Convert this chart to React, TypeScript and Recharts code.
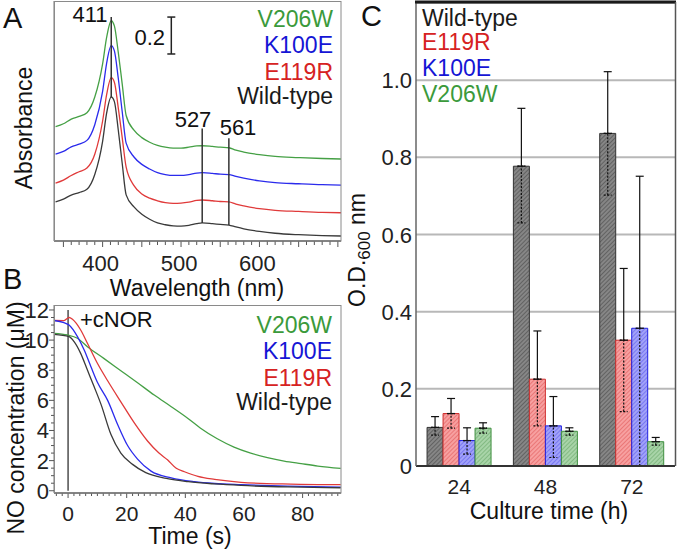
import React from 'react';
import {
  LineChart,
  Line,
  XAxis,
  YAxis,
  ReferenceLine,
  BarChart,
  Bar,
  ErrorBar,
  CartesianGrid
} from 'recharts';

const FONT = '"Liberation Sans", Arial, Helvetica, sans-serif';

const C_WT = '#3a3a3a';
const C_E119R = '#e03a3a';
const C_K100E = '#2b2bec';
const C_V206W = '#45a045';

const T_WT = '#1a1a1a';
const T_E119R = '#d62222';
const T_K100E = '#1515d5';
const T_V206W = '#3b9a3b';

// ---- Panel A: absorption spectra (stacked with offsets, as drawn) ----
const wavelengths = [340, 350, 360, 370, 380, 390, 400, 405, 411, 415, 420, 425, 430, 440, 450, 460, 470, 480, 490, 500, 510, 520, 527, 540, 550, 561, 570, 580, 600, 620, 650, 680, 704];
const absWildType = [0.212, 0.227, 0.249, 0.262, 0.28, 0.36, 0.54, 0.69, 0.78, 0.755, 0.6, 0.42, 0.25, 0.185, 0.145, 0.118, 0.098, 0.088, 0.082, 0.081, 0.085, 0.094, 0.098, 0.094, 0.09, 0.086, 0.076, 0.066, 0.052, 0.042, 0.034, 0.029, 0.027];
const absE119R = [0.314, 0.33, 0.355, 0.375, 0.395, 0.47, 0.65, 0.79, 0.885, 0.86, 0.72, 0.56, 0.4, 0.3, 0.255, 0.232, 0.218, 0.208, 0.204, 0.205, 0.21, 0.22, 0.222, 0.218, 0.214, 0.212, 0.2, 0.19, 0.175, 0.166, 0.16, 0.155, 0.153];
const absK100E = [0.47, 0.485, 0.51, 0.525, 0.545, 0.63, 0.81, 0.96, 1.058, 1.03, 0.88, 0.7, 0.53, 0.455, 0.415, 0.39, 0.37, 0.36, 0.355, 0.355, 0.36, 0.368, 0.37, 0.366, 0.362, 0.36, 0.35, 0.34, 0.326, 0.316, 0.31, 0.305, 0.303];
const absV206W = [0.619, 0.635, 0.66, 0.675, 0.695, 0.78, 0.96, 1.1, 1.193, 1.165, 1.02, 0.85, 0.68, 0.6, 0.56, 0.535, 0.518, 0.508, 0.503, 0.503, 0.508, 0.515, 0.516, 0.512, 0.508, 0.505, 0.492, 0.482, 0.468, 0.458, 0.452, 0.447, 0.444];
const specTickLabels = [400, 500, 600];
const specMinorTicks = Array.from({ length: 36 }, (_, i) => 350 + i * 10);

const specRows = wavelengths.map((w, i) => ({
  w,
  wt: absWildType[i],
  e119r: absE119R[i],
  k100e: absK100E[i],
  v206w: absV206W[i]
}));

// ---- Panel B: NO consumption traces ----
const tWT = [-4.8, 0.34, 2.05, 4.3, 6.6, 8.9, 11.3, 14.6, 18, 22, 26.5, 33.5, 41, 50, 59, 75, 93];
const noWT = [10.38, 10.23, 9.9, 9.12, 8.01, 6.9, 5.7, 3.75, 2.5, 1.75, 1.2, 0.82, 0.6, 0.45, 0.35, 0.25, 0.2];
const tK100E = [-4.8, -1.4, 0.34, 3.2, 5.5, 7.8, 10, 13.5, 16.9, 20.3, 23.7, 28.3, 35.2, 43.1, 50, 59, 75, 93];
const noK100E = [11.3, 11.16, 11.0, 10.23, 9.34, 8.23, 7.2, 6.0, 4.4, 3.0, 2.1, 1.3, 0.85, 0.6, 0.48, 0.4, 0.3, 0.24];
const tE119R = [-4.8, -1.4, 0.34, 1.5, 4.3, 6.6, 10, 13.5, 18, 22.6, 27.1, 31, 34, 36.9, 39.7, 44.3, 50, 59, 76, 93];
const noE119R = [11.3, 11.29, 11.5, 11.38, 10.67, 9.79, 8.46, 7.3, 5.9, 4.5, 3.3, 2.5, 2.04, 1.49, 1.26, 0.95, 0.75, 0.56, 0.44, 0.4];
const tV206W = [-4.8, -0.2, 3.2, 6.6, 12.3, 18, 23.7, 29.4, 35.2, 40.9, 45.2, 50.9, 56.6, 62.3, 68, 73.7, 79.5, 85.2, 93];
const noV206W = [10.45, 10.34, 10.12, 9.56, 8.77, 7.97, 7.17, 6.35, 5.58, 4.8, 4.15, 3.45, 2.9, 2.5, 2.2, 1.97, 1.8, 1.64, 1.48];
const timeTickLabels = [0, 20, 40, 60, 80];
const concTickLabels = [0, 2, 4, 6, 8, 10, 12];
const timeMinorTicks = Array.from({ length: 49 }, (_, i) => -4 + i * 2);
const concMinorTicks = Array.from({ length: 25 }, (_, i) => i * 0.5);

const pts = (ts: number[], vs: number[]) => ts.map((t, i) => ({ t, v: vs[i] }));

// ---- Panel C: growth (O.D. 600 nm) ----
const cultureTimes = ['24', '48', '72'];
const odWT = [0.1, 0.777, 0.862];
const odWTLo = [0.08, 0.63, 0.702];
const odWTHi = [0.128, 0.927, 1.022];
const odE119R = [0.136, 0.225, 0.326];
const odE119RLo = [0.098, 0.104, 0.141];
const odE119RHi = [0.175, 0.35, 0.512];
const odK100E = [0.066, 0.104, 0.357];
const odK100ELo = [0.031, 0.022, 0.0];
const odK100EHi = [0.099, 0.18, 0.751];
const odV206W = [0.098, 0.09, 0.063];
const odV206WLo = [0.085, 0.08, 0.054];
const odV206WHi = [0.112, 0.099, 0.074];
const odTickLabels = [0, 0.2, 0.4, 0.6, 0.8, 1.0];

const growthRows = cultureTimes.map((c, i) => ({
  c,
  wt: odWT[i], wtUp: [0, odWTHi[i] - odWT[i]], wtDn: [odWT[i] - odWTLo[i], 0],
  e119r: odE119R[i], e119rUp: [0, odE119RHi[i] - odE119R[i]], e119rDn: [odE119R[i] - odE119RLo[i], 0],
  k100e: odK100E[i], k100eUp: [0, odK100EHi[i] - odK100E[i]], k100eDn: [odK100E[i] - odK100ELo[i], 0],
  v206w: odV206W[i], v206wUp: [0, odV206WHi[i] - odV206W[i]], v206wDn: [odV206W[i] - odV206WLo[i], 0]
}));

const SpecTick = (props: any) => {
  const { x, y, payload } = props;
  const v = payload.value;
  return (
    <g>
      <line x1={x} x2={x} y1={y} y2={y + (v % 50 === 0 ? 6 : 4)} stroke="#555" strokeWidth={1} />
      {specTickLabels.includes(v) && (
        <text x={x - 2} y={y + 30} textAnchor="middle" fontSize={22} fill="#222" fontFamily={FONT}>{v}</text>
      )}
    </g>
  );
};

const TimeTick = (props: any) => {
  const { x, y, payload } = props;
  const v = payload.value;
  const major = timeTickLabels.includes(v);
  return (
    <g>
      <line x1={x} x2={x} y1={y} y2={y + (major ? 5 : 3)} stroke="#555" strokeWidth={1} />
      {major && (
        <text x={x} y={y + 28} textAnchor="middle" fontSize={21} fill="#222" fontFamily={FONT}>{v}</text>
      )}
    </g>
  );
};

const ConcTick = (props: any) => {
  const { x, y, payload } = props;
  const v = payload.value;
  const major = concTickLabels.includes(v);
  return (
    <g>
      <line x1={x - (major ? 5 : 3)} x2={x} y1={y} y2={y} stroke="#555" strokeWidth={1} />
      {major && (
        <text x={x - 5} y={y + 8} textAnchor="end" fontSize={22} fill="#222" fontFamily={FONT}>{v}</text>
      )}
    </g>
  );
};

const OdTick = (props: any) => {
  const { x, y, payload } = props;
  const v = payload.value;
  return (
    <text x={x - 4} y={y + 8} textAnchor="end" fontSize={22} fill="#222" fontFamily={FONT}>
      {v === 0 ? '0' : v.toFixed(1)}
    </text>
  );
};

const CatTick = (props: any) => {
  const { x, y, payload } = props;
  return (
    <text x={x} y={y + 28} textAnchor="middle" fontSize={21} fill="#222" fontFamily={FONT}>{payload.value}</text>
  );
};

const hatch = (id: string, bg: string, fg: string) => (
  <pattern id={id} width="3" height="3" patternUnits="userSpaceOnUse" patternTransform="rotate(45)">
    <rect width="3" height="3" fill={bg} />
    <line x1="0" y1="0" x2="0" y2="3" stroke={fg} strokeWidth="1.2" />
  </pattern>
);

export default function App() {
  const txt = { fontFamily: FONT, fontSize: 23 } as const;
  return (
    <div style={{ position: 'fixed', left: 0, top: 0, width: 677, height: 553, background: '#fff', fontFamily: FONT }}>
      {/* A: spectra */}
      <div style={{ position: 'absolute', left: 0, top: 0 }}>
        <LineChart width={345} height={300} data={specRows} margin={{ top: 1, right: 4, bottom: 0, left: 0 }}>
          <XAxis
            dataKey="w"
            type="number"
            domain={[338, 704]}
            allowDataOverflow
            ticks={specMinorTicks}
            interval={0}
            height={59}
            tickSize={0}
            tickMargin={0}
            tickLine={false}
            axisLine={{ stroke: '#555', strokeWidth: 1.5 }}
            tick={<SpecTick />}
          />
          <YAxis type="number" domain={[0, 1.3]} allowDataOverflow width={54} tick={false} tickLine={false} axisLine={{ stroke: '#777' }} />
          <Line dataKey="wt" type="monotone" stroke={C_WT} strokeWidth={1.3} dot={false} isAnimationActive={false} />
          <Line dataKey="e119r" type="monotone" stroke={C_E119R} strokeWidth={1.3} dot={false} isAnimationActive={false} />
          <Line dataKey="k100e" type="monotone" stroke={C_K100E} strokeWidth={1.3} dot={false} isAnimationActive={false} />
          <Line dataKey="v206w" type="monotone" stroke={C_V206W} strokeWidth={1.3} dot={false} isAnimationActive={false} />
          <ReferenceLine segment={[{ x: 411, y: 1.213 }, { x: 411, y: 0.78 }]} stroke="#333" strokeWidth={1.5} />
          <ReferenceLine segment={[{ x: 527, y: 0.61 }, { x: 527, y: 0.098 }]} stroke="#333" strokeWidth={1.5} />
          <ReferenceLine segment={[{ x: 561, y: 0.556 }, { x: 561, y: 0.087 }]} stroke="#333" strokeWidth={1.5} />
          {/* 0.2 scale bar */}
          <ReferenceLine segment={[{ x: 487.6, y: 1.213 }, { x: 487.6, y: 1.013 }]} stroke="#222" strokeWidth={1.5} />
          <ReferenceLine segment={[{ x: 482.5, y: 1.213 }, { x: 492.7, y: 1.213 }]} stroke="#222" strokeWidth={1.5} />
          <ReferenceLine segment={[{ x: 482.5, y: 1.013 }, { x: 492.7, y: 1.013 }]} stroke="#222" strokeWidth={1.5} />
        </LineChart>
      </div>

      {/* B: NO consumption */}
      <div style={{ position: 'absolute', left: 0, top: 290 }}>
        <LineChart width={345} height={263} margin={{ top: 15, right: 4, bottom: 0, left: 0 }}>
          <XAxis
            dataKey="t"
            type="number"
            domain={[-4.8, 93.1]}
            allowDataOverflow
            ticks={timeMinorTicks}
            interval={0}
            height={60}
            tickSize={0}
            tickMargin={0}
            tickLine={false}
            axisLine={{ stroke: '#555', strokeWidth: 1.5 }}
            tick={<TimeTick />}
          />
          <YAxis
            type="number"
            domain={[-0.15, 12.33]}
            allowDataOverflow
            ticks={concMinorTicks}
            interval={0}
            width={54}
            tickSize={0}
            tickMargin={0}
            tickLine={false}
            axisLine={{ stroke: '#777' }}
            tick={<ConcTick />}
          />
          <ReferenceLine segment={[{ x: 0, y: 12 }, { x: 0, y: 0 }]} stroke="#333" strokeWidth={1.3} />
          <Line data={pts(tV206W, noV206W)} dataKey="v" type="monotone" stroke={C_V206W} strokeWidth={1.3} dot={false} isAnimationActive={false} />
          <Line data={pts(tE119R, noE119R)} dataKey="v" type="monotone" stroke={C_E119R} strokeWidth={1.3} dot={false} isAnimationActive={false} />
          <Line data={pts(tK100E, noK100E)} dataKey="v" type="monotone" stroke={C_K100E} strokeWidth={1.3} dot={false} isAnimationActive={false} />
          <Line data={pts(tWT, noWT)} dataKey="v" type="monotone" stroke={C_WT} strokeWidth={1.3} dot={false} isAnimationActive={false} />
        </LineChart>
      </div>

      {/* C: growth */}
      <div style={{ position: 'absolute', left: 345, top: 0 }}>
        <BarChart
          width={332}
          height={553}
          data={growthRows}
          margin={{ top: 3, right: 2, bottom: 0, left: 0 }}
          barCategoryGap="12.8%"
          barGap={0}
        >
          <defs>
            {hatch('hWT', '#868686', '#4a4a4a')}
            {hatch('hE119R', '#f7a0a0', '#e25c5c')}
            {hatch('hK100E', '#a2a2f8', '#5c5cee')}
            {hatch('hV206W', '#a8d4a8', '#6aa86a')}
          </defs>
          <CartesianGrid vertical={false} stroke="#b8b8b8" strokeWidth={2} />
          <XAxis
            dataKey="c"
            height={87}
            tickSize={0}
            tickMargin={0}
            tickLine={false}
            axisLine={{ stroke: '#333', strokeWidth: 2 }}
            tick={<CatTick />}
          />
          <YAxis
            type="number"
            domain={[0, 1.2]}
            allowDataOverflow
            ticks={odTickLabels}
            interval={0}
            width={71}
            tickSize={0}
            tickMargin={0}
            tickLine={false}
            axisLine={{ stroke: '#666', strokeWidth: 1.5 }}
            tick={<OdTick />}
          />
          <Bar dataKey="wt" fill="url(#hWT)" stroke="#333" strokeWidth={1} isAnimationActive={false}>
            <ErrorBar dataKey="wtUp" width={4} stroke="#111" strokeWidth={1.2} />
            <ErrorBar dataKey="wtDn" width={4} stroke="#111" strokeWidth={1.2} strokeDasharray="2 1.5" />
          </Bar>
          <Bar dataKey="e119r" fill="url(#hE119R)" stroke="#d03030" strokeWidth={1} isAnimationActive={false}>
            <ErrorBar dataKey="e119rUp" width={4} stroke="#111" strokeWidth={1.2} />
            <ErrorBar dataKey="e119rDn" width={4} stroke="#111" strokeWidth={1.2} strokeDasharray="2 1.5" />
          </Bar>
          <Bar dataKey="k100e" fill="url(#hK100E)" stroke="#2020e0" strokeWidth={1} isAnimationActive={false}>
            <ErrorBar dataKey="k100eUp" width={4} stroke="#111" strokeWidth={1.2} />
            <ErrorBar dataKey="k100eDn" width={4} stroke="#111" strokeWidth={1.2} strokeDasharray="2 1.5" />
          </Bar>
          <Bar dataKey="v206w" fill="url(#hV206W)" stroke="#409040" strokeWidth={1} isAnimationActive={false}>
            <ErrorBar dataKey="v206wUp" width={4} stroke="#111" strokeWidth={1.2} />
            <ErrorBar dataKey="v206wDn" width={4} stroke="#111" strokeWidth={1.2} strokeDasharray="2 1.5" />
          </Bar>
        </BarChart>
      </div>

      {/* frames, legends and annotations */}
      <svg width={677} height={553} style={{ position: 'absolute', left: 0, top: 0, pointerEvents: 'none' }}>
        <rect x={54.5} y={1.5} width={286.5} height={239.5} fill="none" stroke="#8a8a8a" strokeWidth={1} />
        <rect x={54.5} y={305.5} width={286.5} height={187.5} fill="none" stroke="#8a8a8a" strokeWidth={1} />
        <line x1={415} x2={676} y1={2} y2={2} stroke="#1a1a1a" strokeWidth={3} />
        <line x1={675.5} x2={675.5} y1={2} y2={466} stroke="#555" strokeWidth={1.5} />

        <g fontFamily={FONT} fill="#111">
          <text x={3} y={28} fontSize={29}>A</text>
          <text x={3} y={289} fontSize={29}>B</text>
          <text x={361} y={26} fontSize={29}>C</text>

          <text x={90} y={22} fontSize={22} textAnchor="middle">411</text>
          <text x={193} y={127} fontSize={22} textAnchor="middle">527</text>
          <text x={238} y={135} fontSize={22} textAnchor="middle">561</text>
          <text x={165} y={45} fontSize={22} textAnchor="end">0.2</text>

          <text x={333} y={27} textAnchor="end" fill={T_V206W} style={txt}>V206W</text>
          <text x={333} y={53} textAnchor="end" fill={T_K100E} style={txt}>K100E</text>
          <text x={333} y={80} textAnchor="end" fill={T_E119R} style={txt}>E119R</text>
          <text x={333} y={104} textAnchor="end" fill={T_WT} style={txt}>Wild-type</text>

          <text transform="translate(32,128) rotate(-90)" textAnchor="middle" fontSize={23}>Absorbance</text>
          <text x={197} y={296} textAnchor="middle" fontSize={23}>Wavelength (nm)</text>

          <text x={80} y={327} fontSize={22}>+cNOR</text>
          <text x={332} y={333} textAnchor="end" fill={T_V206W} style={txt}>V206W</text>
          <text x={332} y={359} textAnchor="end" fill={T_K100E} style={txt}>K100E</text>
          <text x={332} y={386} textAnchor="end" fill={T_E119R} style={txt}>E119R</text>
          <text x={332} y={410} textAnchor="end" fill={T_WT} style={txt}>Wild-type</text>

          <text transform="translate(24,418) rotate(-90)" textAnchor="middle" fontSize={23}>NO concentration (μM)</text>
          <text x={190} y={544} textAnchor="middle" fontSize={23}>Time (s)</text>

          <text x={422} y={26} fill={T_WT} style={txt}>Wild-type</text>
          <text x={422} y={50} fill={T_E119R} style={txt}>E119R</text>
          <text x={422} y={76} fill={T_K100E} style={txt}>K100E</text>
          <text x={422} y={102} fill={T_V206W} style={txt}>V206W</text>

          <text transform="translate(365,250) rotate(-90)" textAnchor="middle" fontSize={23}>
            O.D.<tspan fontSize={17} dy={5}>600</tspan><tspan dy={-5}> nm</tspan>
          </text>
          <text x={549} y={519} textAnchor="middle" fontSize={23}>Culture time (h)</text>
        </g>
      </svg>
    </div>
  );
}
